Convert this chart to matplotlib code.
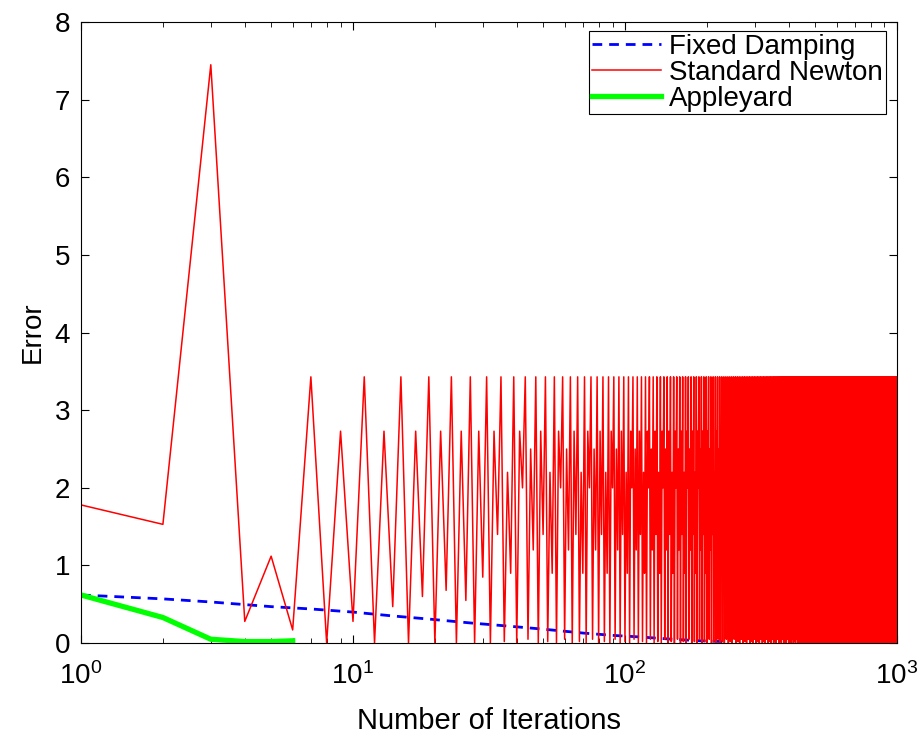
import numpy as np
import matplotlib.pyplot as plt

plt.rcParams['font.family'] = ['Liberation Sans', 'DejaVu Sans']
plt.rcParams['mathtext.fontset'] = 'custom'
plt.rcParams['mathtext.rm'] = 'Liberation Sans'

# Standard Newton: first iterations read one by one, then it locks into a repeating cycle
newton_head = [1.78, 1.53, 7.45, 0.28, 1.12, 0.17, 3.43, 0.0, 2.73, 0.28,
               3.43, 0.0, 2.73, 0.47, 3.43, 0.0, 2.73, 0.6, 3.43, 0.0,
               2.73, 0.68, 3.43, 0.0, 2.73, 0.55, 3.43, 0.0, 2.73, 0.85]
newton_cycle = [3.43, 0.0, 2.73, 1.4, 3.43, 0.02, 2.2, 0.9,
                3.43, 0.0, 2.73, 2.0, 3.43, 0.05, 2.5, 1.2]
n_iter = 1000

# Fixed Damping (read at sample iterations)
damp_x = [1, 2, 3, 5, 7, 10, 14, 19, 27, 37, 50, 70, 90, 113, 150, 190, 230]
damp_y = [0.62, 0.57, 0.53, 0.47, 0.44, 0.40, 0.35, 0.31, 0.26, 0.22,
          0.18, 0.13, 0.10, 0.08, 0.05, 0.03, 0.02]

# Appleyard
apple_y = [0.62, 0.33, 0.05, 0.02, 0.02, 0.03]

n_rest = n_iter - len(newton_head)
newton_y = newton_head + (newton_cycle * (n_rest // len(newton_cycle) + 1))[:n_rest]
newton_x = np.arange(1, n_iter + 1)
apple_x = np.arange(1, len(apple_y) + 1)

fig = plt.figure(figsize=(9.24, 7.35), dpi=100)
ax = fig.add_axes([0.0877, 0.125, 0.883, 0.845])

ax.plot(damp_x, damp_y, color='#0000ff', ls='--', lw=2, dashes=(3.5, 2.5), label='Fixed Damping')
ax.plot(newton_x, newton_y, color='#ff0000', lw=1.1, label='Standard Newton')
ax.plot(apple_x, apple_y, color='#00ff00', lw=3.8, label='Appleyard')

ax.set_xscale('log')
ax.set_xlim(1, 1000)
ax.set_ylim(0, 8)
ax.set_yticks(range(0, 9))
ax.tick_params(which='both', direction='in', top=True, right=True, labelsize=20)
ax.tick_params(which='major', length=6)
ax.tick_params(which='minor', length=3.5)
ax.tick_params(axis='x', pad=14)
ax.tick_params(axis='y', pad=8)
ax.set_xlabel('Number of Iterations', fontsize=21, labelpad=12)
ax.set_ylabel('Error', fontsize=20, labelpad=6)

leg = ax.legend(loc='upper right', bbox_to_anchor=(0.9865, 0.986), fontsize=20,
                fancybox=False, framealpha=1, edgecolor='black',
                handlelength=2.5, handletextpad=0.3, borderaxespad=0,
                labelspacing=0.0, borderpad=0.1)
leg.get_frame().set_linewidth(0.8)

plt.savefig('out.png', dpi=100)
